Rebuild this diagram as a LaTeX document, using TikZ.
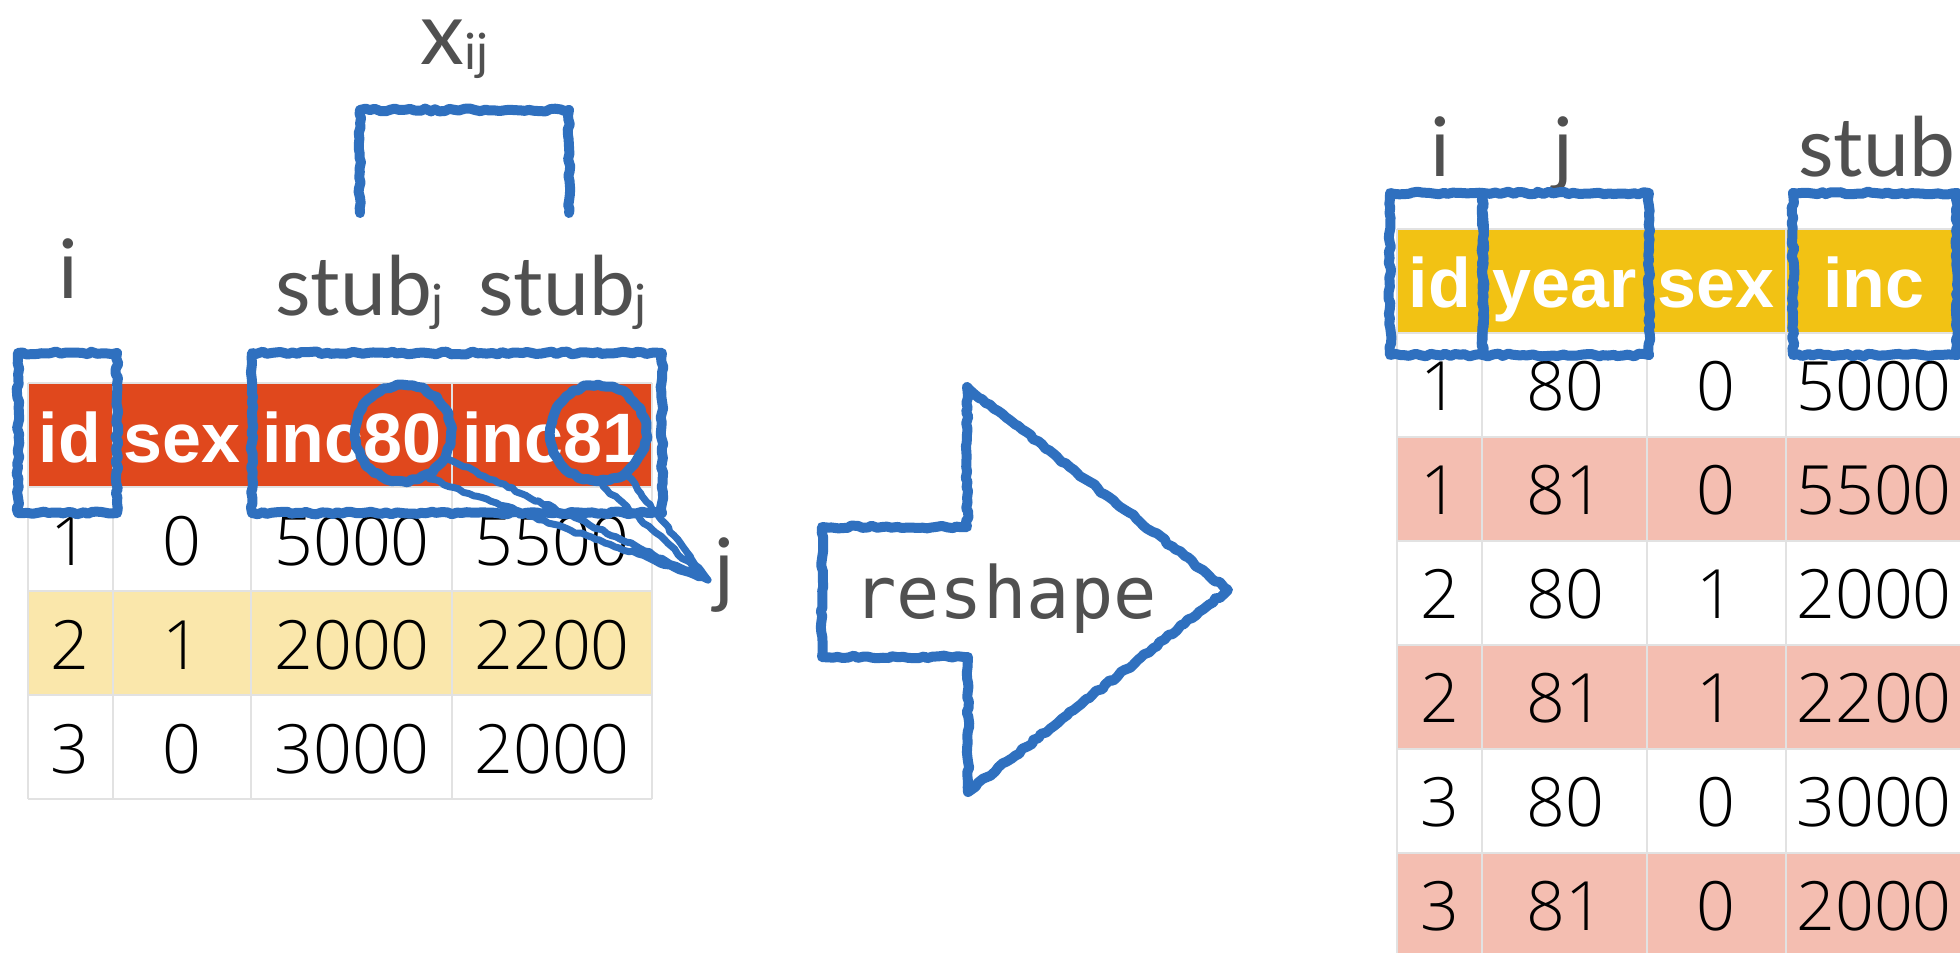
\documentclass[tikz,border=0pt]{standalone}
\usepackage{fontspec}
\setmainfont{Liberation Sans}
\newfontfamily\cellfont{Open Sans Light}
\newfontfamily\gillfont{Lato}
\newfontfamily\reshapefont{DejaVu Sans Mono}
\usepackage{xcolor}
\usetikzlibrary{decorations.pathmorphing, positioning}

\definecolor{hdrred}{RGB}{224,72,29}
\definecolor{hdryellow}{RGB}{242,194,20}
\definecolor{rowyellow}{RGB}{250,231,171}
\definecolor{rowpink}{RGB}{244,190,177}
\definecolor{pen}{RGB}{47,112,191}
\definecolor{gridgray}{RGB}{226,226,226}
\definecolor{lblgray}{RGB}{80,80,80}

\tikzset{
  cell/.style={anchor=base, inner sep=0pt, font=\cellfont\fontsize{34}{38}\selectfont},
  head/.style={anchor=base, inner sep=0pt, text=white, font=\fontsize{35}{40}\selectfont\bfseries},
  lbl/.style={anchor=base, inner sep=0pt, text=lblgray, font=\gillfont\fontsize{41}{46}\selectfont},
  gridline/.style={draw=gridgray, line width=0.8pt},
  sketch/.style={draw=pen, line width=5pt, line join=round, line cap=round,
    decorate, decoration={random steps, segment length=2.5pt, amplitude=0.7pt}},
  ring/.style={circle, minimum size=48pt, inner sep=0pt, sketch},
}
\newcommand{\lsub}[1]{\raisebox{-2.5pt}{\fontsize{25}{28}\selectfont #1}}

\begin{document}
\begin{tikzpicture}[x=0.5pt, y=-0.5pt]
  \useasboundingbox[fill=white] (0,0) rectangle (1960,953);
  \pgfmathsetseed{7}

  % wide table
  \fill[hdrred] (28,383) rectangle (652,487);
  \fill[rowyellow] (28,591) rectangle (652,695);
  \foreach \x in {28,113,251,452,652} \draw[gridline] (\x,383) -- (\x,799);
  \foreach \y in {383,487,591,695,799} \draw[gridline] (28,\y) -- (652,\y);

  \node[head] (w-id)  at (70,462)  {id};
  \node[head] (w-sex) at (182,462) {sex};
  \node[head] (w-i80) at (352,462) {inc80};
  \node[head] (w-i81) at (552,462) {inc81};
  \foreach \id/\sex/\a/\b [count=\r] in {1/0/5000/5500, 2/1/2000/2200, 3/0/3000/2000} {
    \pgfmathsetmacro\yb{487+104*(\r-1)+78}
    \node[cell] (w-\r-1) at (70,\yb)  {\id};
    \node[cell] (w-\r-2) at (182,\yb) {\sex};
    \node[cell] (w-\r-3) at (352,\yb) {\a};
    \node[cell] (w-\r-4) at (552,\yb) {\b};
  }

  % long table
  \fill[hdryellow] (1397,229) rectangle (1962,333);
  \foreach \r in {1,3,5} \fill[rowpink] (1397,{333+104*\r}) rectangle (1962,{437+104*\r});
  \foreach \x in {1397,1482,1647,1786} \draw[gridline] (\x,229) -- (\x,960);
  \foreach \y in {229,333,437,541,645,749,853} \draw[gridline] (1397,\y) -- (1962,\y);

  \node[head] (l-id)   at (1440,307) {id};
  \node[head] (l-year) at (1565,307) {year};
  \node[head] (l-sex)  at (1716,307) {sex};
  \node[head] (l-inc)  at (1874,307) {inc};
  \foreach \id/\yr/\sex/\inc [count=\r] in {1/80/0/5000, 1/81/0/5500, 2/80/1/2000,
      2/81/1/2200, 3/80/0/3000, 3/81/0/2000} {
    \pgfmathsetmacro\yb{333+104*(\r-1)+77}
    \node[cell] (l-\r-1) at (1440,\yb) {\id};
    \node[cell] (l-\r-2) at (1565,\yb) {\yr};
    \node[cell] (l-\r-3) at (1716,\yb) {\sex};
    \node[cell] (l-\r-4) at (1874,\yb) {\inc};
  }

  % index labels
  \node[lbl, anchor=base west] (xij) at (420,64) {\fontsize{44}{48}\selectfont x\lsub{ij}};
  \node[lbl] (wi) at (68,298) {i};
  \node[lbl, anchor=base west] (stub80) at (275,315) {stub\lsub{j}};
  \node[lbl, anchor=base west] (stub81) at (478,315) {stub\lsub{j}};
  \node[lbl] (wj) at (724,597) {j};
  \node[lbl] (li) at (1440,176) {i};
  \node[lbl] (lj) at (1563,176) {j};
  \node[lbl, anchor=base west] (lstub) at (1798,176) {stub};

  % pen marks
  \draw[sketch] (360,213) -- (360,110) -- (569,110) -- (569,213);
  \draw[sketch] (18,353) rectangle (117,513);
  \draw[sketch] (252,353) rectangle (662,513);
  \node[ring] (c80) at (403,433) {};
  \node[ring] (c81) at (598,433) {};
  \coordinate (jtip) at (708,580);
  \draw[sketch, line width=3.5pt] (c80.-30) -- (jtip) -- (c80.-60);
  \draw[sketch, line width=3.5pt] (c81.-55) -- (jtip) -- (c81.-85);

  \draw[sketch] (1390,193) rectangle (1483,355);
  \draw[sketch] (1483,193) rectangle (1649,355);
  \draw[sketch] (1793,193) rectangle (1957,355);

  % reshape arrow
  \draw[sketch, fill=white] (822,527) -- (967,527) -- (967,387) -- (1228,590)
    -- (968,792) -- (968,657) -- (822,657) -- cycle;
  \node[anchor=base, inner sep=0pt, text=lblgray, font=\reshapefont\fontsize{36}{40}\selectfont]
    (reshape) at (1005,618) {reshape};
\end{tikzpicture}
\end{document}
